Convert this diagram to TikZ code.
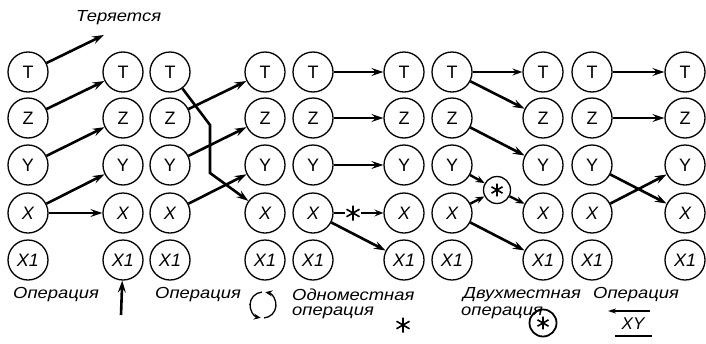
\documentclass[tikz,border=0pt]{standalone}
\usepackage{fontspec}
\setmainfont{Liberation Sans}
\newfontfamily\lblfont[FakeStretch=1.15]{Liberation Sans}
\usetikzlibrary{arrows.meta}
\begin{document}
\begin{tikzpicture}[x=1pt,y=-1pt,
  st/.style={circle,draw,line width=1.3pt,minimum size=40pt,inner sep=0pt,font=\fontsize{18}{20}\selectfont},
  ar/.style={line width=2.6pt,-{Stealth[length=12pt,width=8pt,inset=4.5pt]}},
  sar/.style={line width=2.4pt,-{Stealth[length=9pt,width=7pt,inset=3.5pt]}},
  lbl/.style={font=\lblfont\fontsize{16}{18}\selectfont\itshape,inner sep=0pt,anchor=west},
  astn/.style={circle,inner sep=0pt,minimum size=15pt},
  astpic/.pic={\draw[line width=1.6pt] (0,-7.5) -- (0,7.5) (-6.5,-3.75) -- (6.5,3.75) (-6.5,3.75) -- (6.5,-3.75);}]
\useasboundingbox (0,0) rectangle (706,343);
\foreach \c/\x in {1/28,2/123,3/170,4/265,5/313,6/404,7/452,8/543,9/592,10/685}{
  \node[st] (T\c) at (\x,72) {T};
  \node[st] (Z\c) at (\x,118) {Z};
  \node[st] (Y\c) at (\x,165) {Y};
  \node[st] (X\c) at (\x,213) {\itshape X};
  \node[st] (W\c) at (\x,260) {\itshape X1};
}
% top label
\node[lbl] (lost) at (76,18) {Теряется};
\coordinate (lostend) at (104,35);
% panel 1
\draw[ar] (T1) -- (lostend);
\draw[ar] (Z1) -- (T2);
\draw[ar] (Y1) -- (Z2);
\draw[ar] (X1) -- (Y2);
\draw[ar] (X1) -- (X2);
% panel 2
\coordinate (b1) at (210,125);
\coordinate (b2) at (210,173);
\draw[ar,line join=miter] (T3) -- (b1) -- (b2) -- (X4);
\draw[ar] (Z3) -- (T4);
\draw[ar] (Y3) -- (Z4);
\draw[ar] (X3) -- (Y4);
% panel 3
\draw[ar] (T5) -- (T6);
\draw[ar] (Z5) -- (Z6);
\draw[ar] (Y5) -- (Y6);
\node[astn] (a1) at (353,213) {};
\pic at (a1) {astpic};
\draw[line width=2.6pt] (X5) -- (a1);
\draw[sar] (a1) -- (X6);
\draw[ar] (X5) -- (W6);
% panel 4
\draw[line width=1.3pt,-{Stealth[length=10pt,width=7pt,inset=3.5pt]}] (T7) -- (T8);
\draw[ar] (T7) -- (Z8);
\draw[ar] (Z7) -- (Y8);
\node[circle,draw,line width=1.3pt,minimum size=27pt,inner sep=0pt] (sc) at (497,190) {};
\pic[scale=0.85] at (sc) {astpic};
\draw[sar] (Y7) -- (sc);
\draw[sar] (X7) -- (sc);
\draw[sar] (sc) -- (X8);
\draw[ar] (X7) -- (W8);
% panel 5
\draw[ar] (T9) -- (T10);
\draw[ar] (Z9) -- (Z10);
\draw[ar] (Y9) -- (X10);
\draw[ar] (X9) -- (Y10);
% bottom labels
\node[lbl] (l1) at (13,295) {Операция};
\coordinate (up0) at (121,315);
\draw[ar] (up0) -- (W2);
\node[lbl] (l2) at (155,295) {Операция};
\begin{scope}[shift={(263,305)},y=1pt]
  \draw[line width=1.3pt,-{Stealth[length=7pt,width=6pt]}] (-5:13) arc (-5:80:13);
  \draw[line width=1.3pt] (95:13) arc (95:180:13);
  \draw[line width=1.3pt,-{Stealth[length=7pt,width=6pt]}] (175:13) arc (175:260:13);
  \draw[line width=1.3pt] (275:13) arc (275:355:13);
\end{scope}
\node[lbl] (l3a) at (292,295) {Одноместная};
\node[lbl] (l3b) at (292,313) {операция};
\node[astn] (a3) at (403,325) {};
\pic at (a3) {astpic};
\node[lbl] (l4a) at (463,295) {Двухместная};
\node[lbl] (l4b) at (461,313) {операция};
\node[circle,draw,line width=1.8pt,minimum size=27pt,inner sep=0pt] (sc2) at (543,323) {};
\pic[scale=0.85] at (sc2) {astpic};
\node[lbl] (l5) at (593,295) {Операция};
\coordinate (la) at (650,311);
\coordinate (lb) at (608,311);
\draw[line width=1.5pt,-{Stealth[length=8pt,width=5pt]}] (la) -- (lb);
\node[font=\fontsize{17}{19}\selectfont\itshape,inner sep=0pt] (xy) at (633,324) {XY};
\coordinate (ua) at (615,336);
\coordinate (ub) at (652,336);
\draw[line width=1.5pt] (ua) -- (ub);
\end{tikzpicture}
\end{document}
